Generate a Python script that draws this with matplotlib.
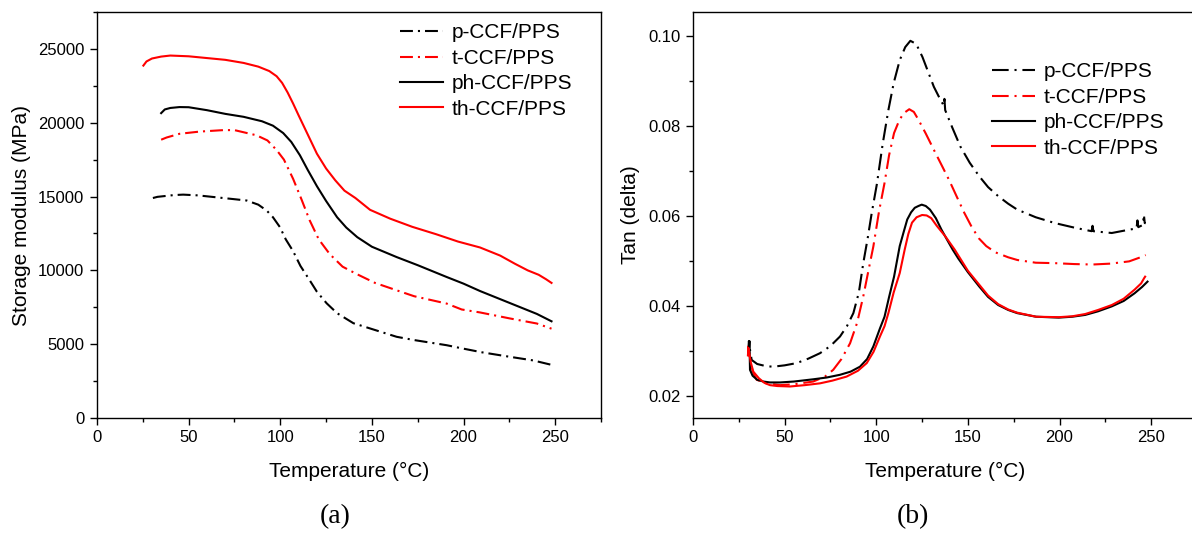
import matplotlib
matplotlib.use("Agg")
import matplotlib.pyplot as plt
from matplotlib.ticker import MultipleLocator, FormatStrFormatter

plt.rcParams['font.family'] = ['Liberation Sans', 'DejaVu Sans']

labels = ['p-CCF/PPS', 't-CCF/PPS', 'ph-CCF/PPS', 'th-CCF/PPS']
colors = ['black', 'red', 'black', 'red']

# ---------------- (a) storage modulus, MPa ----------------
p_T_a = [30.5, 33, 36, 42, 47, 55, 65, 75, 81.7, 88, 92.6, 96, 99.8, 103, 107,
         111, 116.2, 120, 125.3, 131, 139.9, 151.7, 163.5, 173, 190.8, 199,
         210, 225, 238, 248]
p_E = [14900, 14980, 15020, 15100, 15130, 15080, 14950, 14820, 14730, 14450,
       14050, 13600, 12930, 12100, 11300, 10300, 9300, 8550, 7770, 7100, 6420,
       5960, 5500, 5280, 4930, 4720, 4450, 4150, 3900, 3600]

t_T_a = [35, 38, 45, 56, 69, 75, 87, 93, 98, 102, 107, 111.6, 116, 121, 127,
         134, 141.7, 151.7, 163.5, 173, 190.8, 199, 209, 225, 240, 248]
t_E = [18850, 19000, 19250, 19400, 19500, 19500, 19150, 18800, 18150, 17500,
       16200, 14800, 13400, 12100, 11100, 10250, 9750, 9150, 8650, 8250, 7750,
       7350, 7150, 6750, 6400, 6050]

ph_T_a = [35, 37, 40, 45, 50, 60, 70, 80, 90, 96, 101.6, 106, 110.7, 115, 120,
          125, 131, 136, 142, 150, 163.5, 175, 190.8, 200, 209, 220, 230, 240,
          248]
ph_E = [20650, 20900, 21000, 21060, 21050, 20850, 20600, 20400, 20100, 19800,
        19300, 18700, 17800, 16800, 15700, 14700, 13600, 12900, 12250, 11600,
        10900, 10350, 9550, 9100, 8600, 8050, 7550, 7050, 6550]

th_T_a = [25.3, 27, 30, 35, 40, 50, 60, 70, 80, 88, 94, 98, 101, 104, 107, 110,
          115, 120, 125, 130, 135, 141, 149, 160, 172, 185, 197, 209, 220, 228,
          235, 241, 245, 248]
th_E = [23870, 24150, 24350, 24480, 24550, 24500, 24380, 24260, 24050, 23800,
        23500, 23150, 22700, 22050, 21300, 20500, 19200, 17900, 16900, 16100,
        15400, 14900, 14100, 13500, 12950, 12450, 11950, 11550, 11000, 10450,
        10000, 9700, 9400, 9150]

# ---------------- (b) loss factor tan(delta) ----------------
p_T_b = [30.0, 30.5, 31.2, 32, 35, 40, 43.8, 50, 56.6, 63, 69.3, 75, 80.2, 84,
         87.5, 90.5, 92.9, 95.3, 97.5, 100.3, 103.5, 106.6, 109.5, 112.8, 115.8,
         118.6, 121.8, 125.2, 128.3, 131.4, 134.5, 136.8, 137.2, 137.6, 141.5,
         145.9, 151, 156.2, 161, 166.5, 172, 176.9, 187, 197.5, 208, 217.5, 218,
         218.5, 228.5, 238.8, 242, 242.5, 243, 245.5, 246, 246.5, 247]
p_tan = [0.0290, 0.0322, 0.0300, 0.0280, 0.0271, 0.0266, 0.0265, 0.0268, 0.0273,
         0.0283, 0.0295, 0.0311, 0.0332, 0.0355, 0.0384, 0.0430, 0.0495, 0.0550,
         0.0606, 0.0670, 0.0760, 0.0835, 0.0895, 0.0946, 0.0975, 0.0989, 0.0982,
         0.0953, 0.0920, 0.0887, 0.0862, 0.0845, 0.0860, 0.0835, 0.0796, 0.0754,
         0.0718, 0.0688, 0.0664, 0.0644, 0.0627, 0.0614, 0.0597, 0.0584, 0.0574,
         0.0566, 0.0578, 0.0566, 0.0562, 0.0570, 0.0572, 0.0590, 0.0575, 0.0580,
         0.0603, 0.0584, 0.0584]

t_T_b = [30.0, 30.2, 31, 32.5, 34.7, 40, 47.5, 55, 65.6, 72, 76.5, 81, 85.7,
         89.5, 92.9, 95.8, 98.4, 101.5, 104.5, 107, 109.7, 112.5, 114.9, 118,
         120.5, 123.1, 127, 131.4, 135.5, 139.7, 144, 148, 152, 156, 160, 165,
         172, 177, 187, 197.5, 208, 218, 228, 238, 245.5, 247]
t_tan = [0.0290, 0.0310, 0.0285, 0.0255, 0.0236, 0.0228, 0.0224, 0.0226, 0.0232,
         0.0243, 0.0258, 0.0282, 0.0317, 0.0362, 0.0421, 0.0480, 0.0532, 0.0610,
         0.0673, 0.0735, 0.0784, 0.0812, 0.0828, 0.0837, 0.0831, 0.0813, 0.0783,
         0.0747, 0.0714, 0.0680, 0.0642, 0.0607, 0.0576, 0.0550, 0.0533, 0.0519,
         0.0508, 0.0502, 0.0496, 0.0495, 0.0493, 0.0492, 0.0494, 0.0499, 0.0510,
         0.0513]

ph_T_b = [30.5, 30.8, 31.1, 32.5, 35, 38.4, 42, 47.5, 55, 65.6, 73, 80.2, 86,
          91.1, 95, 98.4, 102, 104.5, 107, 109.7, 112.8, 115, 116.9, 119, 121,
          123, 124.8, 127, 129.3, 132.5, 135.5, 138.5, 141.7, 144.8, 150, 156.2,
          161, 166.5, 172, 176.9, 187.2, 199.6, 207, 214, 221, 228.5, 235, 240.9,
          245, 248]
ph_tan = [0.0300, 0.0322, 0.0258, 0.0245, 0.0236, 0.0232, 0.0230, 0.0230, 0.0232,
          0.0237, 0.0241, 0.0247, 0.0254, 0.0265, 0.0282, 0.0310, 0.0350, 0.0376,
          0.0420, 0.0465, 0.0533, 0.0565, 0.0592, 0.0608, 0.0618, 0.0622, 0.0625,
          0.0622, 0.0614, 0.0595, 0.0570, 0.0548, 0.0525, 0.0505, 0.0475, 0.0443,
          0.0420, 0.0402, 0.0391, 0.0384, 0.0376, 0.0374, 0.0376, 0.0380, 0.0388,
          0.0399, 0.0411, 0.0428, 0.0442, 0.0454]

th_T_b = [30.0, 30.2, 31.5, 32.9, 36, 39, 42, 46, 52.9, 61, 69.3, 76, 83.8, 90,
          94.8, 98.5, 102, 104.5, 106.6, 109.5, 112.8, 115.5, 117.5, 119.5, 122,
          125, 127.5, 130, 133, 137.6, 142.8, 150, 156.2, 161, 166.5, 172, 176.9,
          187.2, 199.6, 207, 214, 221, 228.5, 235, 240.9, 244.5, 246.2, 246.7]
th_tan = [0.0290, 0.0307, 0.0275, 0.0254, 0.0239, 0.0229, 0.0224, 0.0222, 0.0221,
          0.0224, 0.0228, 0.0234, 0.0243, 0.0256, 0.0273, 0.0298, 0.0332, 0.0355,
          0.0384, 0.0430, 0.0473, 0.0525, 0.0560, 0.0585, 0.0597, 0.0602, 0.0601,
          0.0595, 0.0578, 0.0555, 0.0525, 0.0478, 0.0447, 0.0423, 0.0404, 0.0392,
          0.0385, 0.0376, 0.0375, 0.0377, 0.0382, 0.0391, 0.0402, 0.0416, 0.0436,
          0.0450, 0.0462, 0.0465]

fig = plt.figure(figsize=(11.92, 5.33), dpi=100)
W, H = 1192.0, 533.0
ax_a = fig.add_axes([97 / W, 115 / H, 504 / W, 406 / H])
ax_b = fig.add_axes([693 / W, 115 / H, 504 / W, 406 / H])

dash_a = (6.2, 2.4, 1.0, 2.4)
dash_b = (8.0, 2.8, 1.0, 2.8)
lw = 1.5

series_a = [(p_T_a, p_E), (t_T_a, t_E), (ph_T_a, ph_E), (th_T_a, th_E)]
series_b = [(p_T_b, p_tan), (t_T_b, t_tan), (ph_T_b, ph_tan), (th_T_b, th_tan)]

for ax, series, dash in ((ax_a, series_a, dash_a), (ax_b, series_b, dash_b)):
    for i, (x, y) in enumerate(series):
        line, = ax.plot(x, y, color=colors[i], lw=lw, label=labels[i],
                        solid_joinstyle='round', dash_joinstyle='round')
        if i < 2:
            line.set_dashes(dash)

for ax in (ax_a, ax_b):
    ax.set_xlim(0, 275)
    ax.xaxis.set_major_locator(MultipleLocator(50))
    ax.xaxis.set_minor_locator(MultipleLocator(25))
    ax.tick_params(which='major', direction='out', length=5, width=1.0,
                   labelsize=12, pad=4, top=False, right=False)
    ax.tick_params(which='minor', direction='out', length=3, width=1.0,
                   top=False, right=False)
    for s in ax.spines.values():
        s.set_linewidth(1.0)
    ax.set_xlabel('Temperature (°C)', fontsize=15, labelpad=12)

ax_a.set_ylim(0, 27500)
ax_a.yaxis.set_major_locator(MultipleLocator(5000))
ax_a.yaxis.set_minor_locator(MultipleLocator(2500))
ax_a.set_ylabel('Storage modulus (MPa)', fontsize=15)
ax_a.yaxis.set_label_coords(-0.13, 0.5)

ax_b.set_ylim(0.0151, 0.1053)
ax_b.yaxis.set_major_locator(MultipleLocator(0.02))
ax_b.yaxis.set_minor_locator(MultipleLocator(0.01))
ax_b.yaxis.set_major_formatter(FormatStrFormatter('%.2f'))
ax_b.set_ylabel('Tan (delta)', fontsize=15)
ax_b.yaxis.set_label_coords(-0.105, 0.5)

leg_kw = dict(frameon=False, fontsize=15, handlelength=2.05, handletextpad=0.45,
              labelspacing=0.31, borderpad=0, borderaxespad=0, loc='upper left')
ax_a.legend(bbox_to_anchor=(0.601, 0.972), **leg_kw)
ax_b.legend(bbox_to_anchor=(0.593, 0.876), **leg_kw)

fig.text(335 / W, 1 - 517 / H, '(a)', ha='center', va='center', fontsize=20,
         family=['Liberation Serif', 'DejaVu Serif'])
fig.text(913 / W, 1 - 517 / H, '(b)', ha='center', va='center', fontsize=20,
         family=['Liberation Serif', 'DejaVu Serif'])

fig.savefig('out.png', dpi=100)
